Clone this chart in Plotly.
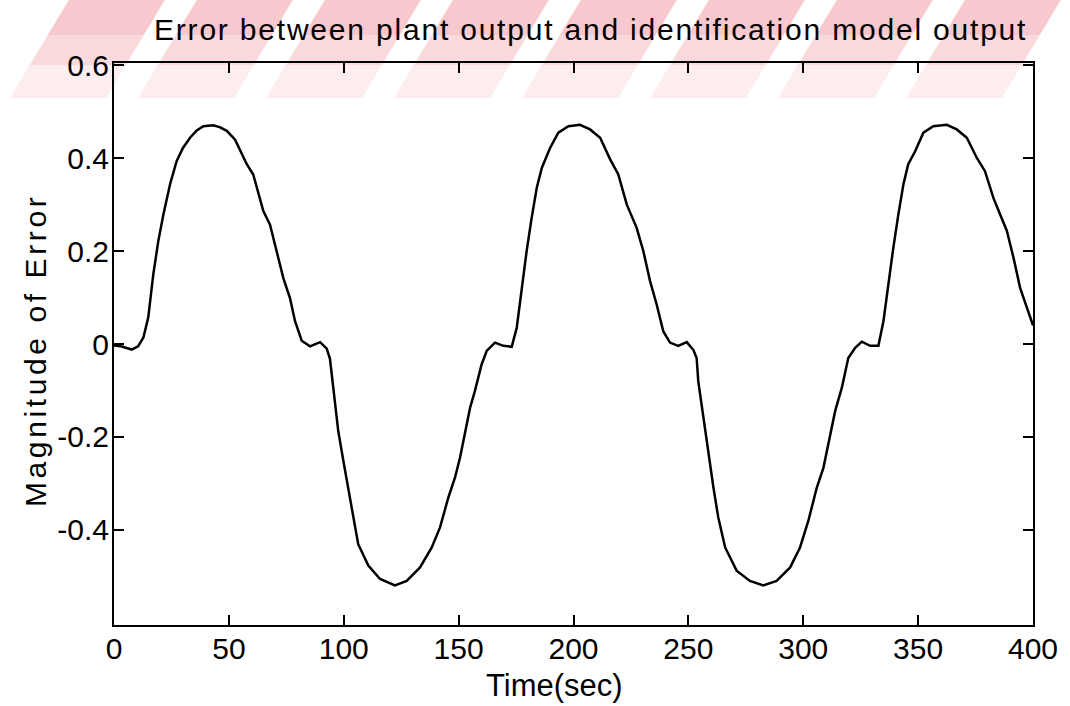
import plotly.graph_objects as go

# ---- data ----
time_sec = [0, 3, 7.7, 10.5, 12.8, 14.9, 17.1, 19.3, 21.5, 24.4, 27.3, 30, 33.1, 36, 38.9, 43.2, 46, 49.1,
            52.7, 55, 57.8, 60.6, 63, 65, 67.9, 70.8, 73.7, 76.6, 78.8, 81.7, 85.3, 89.7, 92.6, 94, 95.5,
            97.6, 99.8, 102, 104.2, 106.3, 110.7, 115.8, 122.3, 127.4, 133.2, 138.3, 141.9, 145.5, 148.4,
            150.6, 152.8, 155, 157.1, 160, 162.2, 165.8, 169.5, 173.1, 175.3, 177.5, 179.6, 181.8, 184,
            186.2, 189.8, 193.4, 197.8, 202.8, 207.2, 211.6, 215.9, 219.5, 223.2, 227.5, 230.4, 233.3,
            236.2, 239.1, 242, 245.6, 249.3, 252.2, 253.6, 254.3, 256.5, 258.7, 260.9, 263, 266, 271,
            276.8, 282.6, 288.4, 294.3, 298.6, 302.2, 305.9, 308.8, 311.7, 313.9, 316.8, 319.6, 322.6,
            325.5, 329.1, 332.7, 334.9, 337.1, 339.2, 341.4, 343.6, 345.7, 348.7, 352.3, 356.6, 362.5,
            366.8, 371.2, 375.5, 379.1, 382.8, 385.7, 388.6, 391.5, 394.4, 397.3, 400]
error_mag = [-0.003, -0.005, -0.012, -0.005, 0.014, 0.057, 0.150, 0.222, 0.279, 0.344, 0.394, 0.422, 0.444,
             0.460, 0.469, 0.471, 0.467, 0.459, 0.440, 0.417, 0.387, 0.365, 0.324, 0.286, 0.257, 0.200,
             0.142, 0.099, 0.049, 0.007, -0.005, 0.004, -0.010, -0.032, -0.094, -0.187, -0.251, -0.316,
             -0.373, -0.431, -0.477, -0.506, -0.520, -0.510, -0.481, -0.438, -0.395, -0.331, -0.288,
             -0.245, -0.187, -0.137, -0.101, -0.044, -0.015, 0.003, -0.004, -0.006, 0.035, 0.121, 0.200,
             0.272, 0.336, 0.379, 0.422, 0.455, 0.469, 0.472, 0.462, 0.444, 0.398, 0.365, 0.300, 0.250,
             0.200, 0.136, 0.085, 0.027, 0.003, -0.004, 0.004, -0.013, -0.030, -0.080, -0.158, -0.238,
             -0.309, -0.373, -0.438, -0.488, -0.510, -0.520, -0.510, -0.481, -0.438, -0.381, -0.309,
             -0.266, -0.194, -0.144, -0.094, -0.030, -0.008, 0.005, -0.004, -0.004, 0.049, 0.136, 0.207,
             0.279, 0.344, 0.387, 0.415, 0.455, 0.469, 0.472, 0.462, 0.444, 0.401, 0.372, 0.314, 0.279,
             0.244, 0.186, 0.121, 0.079, 0.040]

x_ticks = [0, 50, 100, 150, 200, 250, 300, 350, 400]
y_ticks = [-0.4, -0.2, 0, 0.2, 0.4, 0.6]
y_tick_labels = ["-0.4", "-0.2", "0", "0.2", "0.4", "0.6"]

title_text = "Error between plant output and identification model output"
x_title = "Time(sec)"
y_title = "Magnitude of Error"

# ---- layout geometry (pixels) ----
W, H = 1070, 706
L, R, T, B = 114, 1033, 63, 625


def px(x):
    return (x - L) / (R - L)


def py(y):
    return (B - y) / (B - T)


FONT = "Liberation Sans, Arial, sans-serif"

fig = go.Figure()
fig.add_trace(go.Scatter(x=time_sec, y=error_mag, mode="lines",
                         line=dict(color="black", width=2.5), showlegend=False,
                         hoverinfo="skip"))

# faint watermark stripes at the top of the page
shapes = []
bands = [(0, 35, "#f7c8ce"), (35, 65, "#fad9dd"), (65, 98, "#fdedef")]
slant = 0.6
for i in range(8):
    x0 = 10 + i * 128
    w = 96
    for (ya, yb, col) in bands:
        xa = x0 + (98 - yb) * slant
        xb = x0 + (98 - ya) * slant
        path = (f"M {px(xa)},{py(yb)} L {px(xa + w)},{py(yb)} "
                f"L {px(xb + w)},{py(ya)} L {px(xb)},{py(ya)} Z")
        shapes.append(dict(type="path", xref="paper", yref="paper", path=path,
                           fillcolor=col, line=dict(width=0), layer="below"))

annotations = [
    dict(text=f'<span style="letter-spacing:1.8px">{title_text}</span>', xref="paper", yref="paper",
         x=px(590), y=py(30), showarrow=False, xanchor="center", yanchor="middle",
         font=dict(family=FONT, size=30, color="black")),
    dict(text=x_title, xref="paper", yref="paper", x=px(554), y=py(685),
         showarrow=False, xanchor="center", yanchor="middle",
         font=dict(family=FONT, size=31, color="black")),
    dict(text=f'<span style="letter-spacing:3.6px">{y_title}</span>', xref="paper", yref="paper",
         x=px(35), y=py(351), showarrow=False, xanchor="center", yanchor="middle", textangle=-90,
         font=dict(family=FONT, size=30, color="black")),
]

fig.update_layout(
    width=W, height=H,
    margin=dict(l=L, r=W - R, t=T, b=H - B, pad=0),
    paper_bgcolor="white", plot_bgcolor="rgba(0,0,0,0)",
    shapes=shapes, annotations=annotations,
    font=dict(family=FONT, size=30, color="black"),
)
fig.update_xaxes(range=[0, 400], tickvals=x_ticks, ticks="inside", ticklen=10, tickwidth=1.5,
                 tickcolor="black", showline=True, linecolor="black", linewidth=2, mirror="ticks",
                 showgrid=False, zeroline=False, tickfont=dict(family=FONT, size=30),
                 ticklabelstandoff=-4)
fig.update_yaxes(range=[-0.605, 0.605], tickvals=y_ticks, ticktext=y_tick_labels, ticks="inside",
                 ticklen=10, tickwidth=1.5, tickcolor="black", showline=True, linecolor="black",
                 linewidth=2, mirror="ticks", showgrid=False, zeroline=False,
                 tickfont=dict(family=FONT, size=30), ticklabelstandoff=-3)

fig.write_html("out.html", config={"displayModeBar": False},
               post_script="document.body.style.margin='0';document.body.style.padding='0';")
